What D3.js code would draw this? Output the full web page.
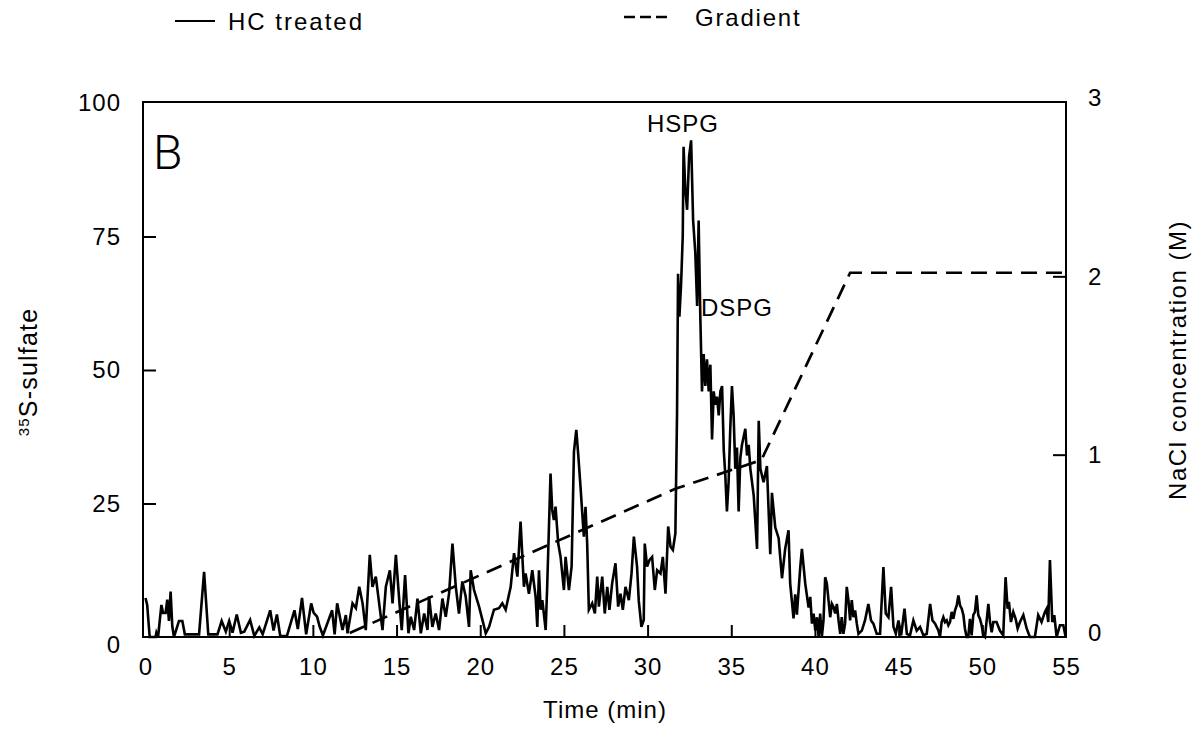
<!DOCTYPE html>
<html>
<head>
<meta charset="utf-8">
<script src="https://cdn.jsdelivr.net/npm/d3@7"></script>
<style>
  body { margin: 0; background: #fff; }
  svg { display: block; }
  text { font-family: "Liberation Sans", Arial, Helvetica, sans-serif; fill: #000; }
</style>
</head>
<body>
<svg id="chart" width="1199" height="740"></svg>
<script>
// ---- data ----
const hcTime = [
  0.0,0.1,0.25,0.6,0.65,0.75,0.95,1.05,1.2,1.3,1.4,1.5,1.6,1.7,2.0,2.2,2.35,3.2,3.5,3.75,
  4.3,4.55,4.8,5.0,5.2,5.45,5.7,5.9,6.25,6.5,6.8,7.0,7.45,7.65,7.85,8.05,8.45,8.9,9.1,9.35,
  9.6,9.9,10.05,10.25,10.4,10.6,11.15,11.3,11.45,
  11.77,11.97,12.07,12.37,12.57,12.77,12.97,13.16,13.40,13.56,13.76,13.96,14.16,14.36,14.60,14.76,14.96,15.16,15.31,15.51,
  15.71,15.85,16.05,16.25,16.45,16.65,16.85,16.94,17.14,17.34,17.54,17.74,17.94,18.14,18.34,18.54,18.73,18.93,19.13,19.33,
  19.43,19.63,19.93,20.13,20.33,20.53,20.82,21.12,21.32,21.52,21.82,22.02,22.22,22.41,
  22.61,22.71,22.91,23.11,23.31,23.41,23.51,23.61,23.71,23.91,24.0,24.2,24.3,24.4,24.5,24.66,24.8,25.0,25.1,25.3,
  25.46,25.6,25.74,25.85,25.99,26.19,26.29,26.39,26.49,26.69,26.85,26.99,27.09,27.29,27.44,27.59,27.72,27.88,28.08,28.24,
  28.38,28.52,28.68,28.88,29.04,29.18,29.37,29.47,29.63,29.77,29.83,29.97,30.11,30.27,30.43,30.57,30.77,30.91,31.07,31.23,
  31.37,31.51,31.66,
  31.76,31.82,31.9,32.0,32.1,32.15,32.25,32.36,32.48,32.6,32.72,32.85,32.96,33.05,33.15,33.25,33.35,33.45,33.55,33.65,
  33.75,33.85,33.95,34.05,34.15,34.25,34.35,34.45,34.55,34.64,34.74,34.84,34.94,35.04,35.14,35.24,35.34,35.44,35.54,35.64,
  35.84,35.94,36.04,36.14,36.34,36.54,36.64,36.74,36.93,37.13,37.33,37.43,37.63,37.83,38.03,38.22,38.42,38.52,38.72,38.82,
  38.92,39.12,39.22,39.42,39.62,
  39.72,39.82,39.92,40.02,40.12,40.22,40.31,40.41,40.51,40.61,40.71,40.81,40.91,41.01,41.11,41.21,41.31,41.41,41.51,41.60,
  41.70,41.80,41.90,42.0,42.10,42.20,42.30,42.40,42.50,42.60,42.80,42.99,43.19,43.35,43.49,43.69,43.89,44.09,44.23,44.39,
  44.55,44.69,44.83,44.99,45.15,45.35,45.49,45.68,45.88,46.08,46.28,46.48,46.68,46.88,47.02,47.18,47.38,
  47.47,47.57,47.67,47.77,47.87,47.97,48.07,48.17,48.27,48.37,48.47,48.57,48.67,48.77,48.87,48.96,49.06,49.16,49.26,49.36,
  49.46,49.56,49.66,49.76,49.86,49.96,50.06,50.16,50.36,50.46,50.56,50.66,50.85,51.05,51.25,51.39,51.51,51.59,51.71,51.85,
  51.99,52.11,52.25,52.45,52.65,52.84,53.14,53.34,53.54,53.74,53.84,53.94,54.04,54.18,54.3,54.44,54.64,54.84,54.98
];
const hcValue = [
  7.3,6.0,0,0,0.8,0,6.0,4.5,4.5,7.0,3.0,8.5,2.0,0,3.0,3.0,0.5,0.5,12.2,0.5,
  0.5,3.0,1.0,3.0,0.8,4.2,0.8,1.0,3.2,0.2,1.8,0.5,5.0,1.2,4.2,0.2,0.2,5.0,1.5,7.3,
  0.5,6.3,4.5,3.8,2.0,0.3,5.0,0.5,6.3,
  1.3,4.1,0.7,6.3,5.4,9.4,6.3,1.3,15.4,9.4,11.3,6.3,1.3,9.4,12.5,6.3,15.4,6.9,1.3,11.6,
  0.7,3.8,1.3,7.2,0.7,4.4,1.3,7.6,1.9,4.4,1.3,7.2,3.8,8.2,17.5,9.4,4.4,10.4,7.6,1.9,
  12.5,8.8,5.7,3.2,0.7,1.9,5.1,5.4,6.3,5.1,9.4,15.7,11.3,21.6,
  9.4,11.9,8.1,12.5,7.5,1.9,12.5,5.1,6.9,1.3,9.4,30.6,23.8,21.9,24.4,17.5,15.0,8.8,15.0,8.8,
  13.2,34.7,38.8,34.4,28.2,18.8,24.4,17.5,5.1,6.3,4.4,11.3,5.7,11.3,4.4,9.4,5.1,10.0,13.8,5.7,
  8.1,5.1,9.4,6.9,11.9,18.8,13.2,6.9,1.9,3.2,17.5,13.2,14.4,15.0,8.8,12.5,11.9,15.0,8.1,20.7,
  16.9,16.3,19.4,
  42,68,60,66,75,91.8,84,80,90,93,78,72,62,78,60,46,53,47,52,46,
  51,37,46,43.5,45,41.5,46,47,35,30.5,23.5,29,39,47,41.5,31.5,35.5,23.5,33.5,36,
  39,34,36,31.5,26.5,16.5,40.5,31.5,29,32,15.5,27,20.5,18.5,11,16.5,20,10,3.5,8,
  4.2,13,16.5,10,5.5,
  7.5,2.5,4.4,1.2,3.7,0,4.4,0,3.1,11.2,10.0,6.9,3.7,6.2,5.6,4.4,6.2,3.1,0.6,3.7,
  0.6,2.5,9.4,6.9,3.1,6.9,3.7,5.0,2.5,0.6,1.2,3.1,6.2,3.1,2.5,0.6,0.6,13.1,4.4,3.7,
  9.4,1.9,0.6,3.1,0.3,5.3,0.6,0.3,3.1,1.2,1.9,0.3,0.6,6.2,3.1,2.5,1.2,
  0,2.8,3.7,2.8,3.1,2.2,2.8,4.7,3.4,5.0,5.9,7.8,5.9,5.3,4.1,1.6,0,0,3.4,0.3,
  4.1,4.7,7.8,4.1,3.4,2.2,0.3,0,6.2,2.8,0.9,2.8,2.8,1.2,0.3,11.2,5.3,6.6,2.8,4.7,
  3.4,1.6,2.8,4.1,1.6,0,0,4.1,2.8,4.7,5.3,2.8,14.4,2.8,4.1,0,2.2,2.2,0
];
const gradTime  = [12.2, 22.3, 31.7, 36.8, 42.1, 55];
const gradValue = [0, 0.42, 0.81, 0.97, 2.02, 2.02];

const xTicks = [0,5,10,15,20,25,30,35,40,45,50,55];
const yLeftTicks = [0,25,50,75,100];
const yRightTicks = [0,1,2,3];
const legendLabels = ["HC treated", "Gradient"];

// ---- scales ----
const svg = d3.select("#chart");
const x = d3.scaleLinear().domain([-0.15, 55]).range([143, 1066]);
const yL = d3.scaleLinear().domain([0, 100]).range([637, 103]);
const yR = d3.scaleLinear().domain([0, 3]).range([633, 98]);

const FS = 24;
const LS = "1px";

// frame
const fLeft = 143, fRight = 1066, fTop = 102, fBottom = 637;
svg.append("path")
  .attr("d", `M${fLeft},${fTop}V${fBottom}H${fRight}V${fTop}Z`)
  .attr("fill", "none").attr("stroke", "#000").attr("stroke-width", 2);

// axes
const gx = svg.append("g").attr("transform", `translate(0,${fBottom})`)
  .call(d3.axisBottom(x).tickValues(xTicks).tickSizeInner(-12).tickSizeOuter(0).tickPadding(21));
gx.select(".domain").remove();
gx.selectAll(".tick line").filter(d => d === 0 || d === 55).remove();

const gl = svg.append("g").attr("transform", `translate(${fLeft},0)`)
  .call(d3.axisLeft(yL).tickValues(yLeftTicks).tickSizeInner(-13).tickSizeOuter(0).tickPadding(22));
gl.select(".domain").remove();
gl.selectAll(".tick line").filter(d => d === 0 || d === 100).remove();

const gr = svg.append("g").attr("transform", `translate(${fRight},0)`)
  .call(d3.axisRight(yR).tickValues(yRightTicks).tickFormat(d3.format("d"))
    .tickSizeInner(-13).tickSizeOuter(0).tickPadding(22));
gr.select(".domain").remove();
gr.selectAll(".tick line").filter(d => d === 0 || d === 3).remove();

svg.selectAll(".tick line").attr("stroke", "#000").attr("stroke-width", 2);
svg.selectAll(".tick text").style("font-size", FS + "px").style("letter-spacing", LS)
  .style("font-family", '"Liberation Sans", Arial, sans-serif').attr("fill", "#000");
gl.selectAll(".tick text").filter(d => d === 0).attr("dy", "0.65em");

// gradient (dashed)
const n = Math.min(hcTime.length, hcValue.length);
const hc = hcTime.slice(0, n).map((t, i) => [t, hcValue[i]]);
const grad = gradTime.map((t, i) => [t, gradValue[i]]);

svg.append("path")
  .datum(grad)
  .attr("d", d3.line().x(d => x(d[0])).y(d => yR(d[1])))
  .attr("fill", "none").attr("stroke", "#000").attr("stroke-width", 2.7)
  .attr("stroke-dasharray", "16,9");

// HC trace
svg.append("path")
  .datum(hc)
  .attr("d", d3.line().x(d => x(d[0])).y(d => yL(d[1])))
  .attr("fill", "none").attr("stroke", "#000").attr("stroke-width", 2.6)
  .attr("stroke-linejoin", "miter");

// annotations
svg.append("text").attr("x", 683).attr("y", 132).attr("text-anchor", "middle")
  .style("font-size", "24px").style("letter-spacing", "1px").text("HSPG");
svg.append("text").attr("x", 701).attr("y", 316).attr("text-anchor", "start")
  .style("font-size", "24px").style("letter-spacing", "1px").text("DSPG");
svg.append("text").attr("x", 153).attr("y", 169)
  .style("font-family", "Roboto, 'Liberation Sans', sans-serif")
  .style("font-size", "48px").style("font-weight", "300").text("B");

// legend
svg.append("line").attr("x1", 175).attr("x2", 215).attr("y1", 21).attr("y2", 21)
  .attr("stroke", "#000").attr("stroke-width", 2.2);
svg.append("text").attr("x", 228).attr("y", 30).style("font-size", "24px")
  .style("letter-spacing", "2px").text(legendLabels[0]);
svg.append("line").attr("x1", 624).attr("x2", 668).attr("y1", 17).attr("y2", 17)
  .attr("stroke", "#000").attr("stroke-width", 2.4).attr("stroke-dasharray", "11,5");
svg.append("text").attr("x", 695).attr("y", 26).style("font-size", "24px")
  .style("letter-spacing", "1.8px").text(legendLabels[1]);

// axis titles
svg.append("text").attr("x", 605).attr("y", 718).attr("text-anchor", "middle")
  .style("font-size", FS + "px").style("letter-spacing", LS).text("Time (min)");

const yt = svg.append("text").attr("transform", "translate(37,372) rotate(-90)")
  .attr("text-anchor", "middle").style("font-size", "25px").style("letter-spacing", "1.2px");
yt.append("tspan").attr("baseline-shift", "super").style("font-size", "15px").text("35");
yt.append("tspan").text("S-sulfate");

svg.append("text").attr("transform", "translate(1186,360) rotate(-90)")
  .attr("text-anchor", "middle").style("font-size", FS + "px").style("letter-spacing", "1.5px")
  .text("NaCl concentration (M)");
</script>
</body>
</html>
